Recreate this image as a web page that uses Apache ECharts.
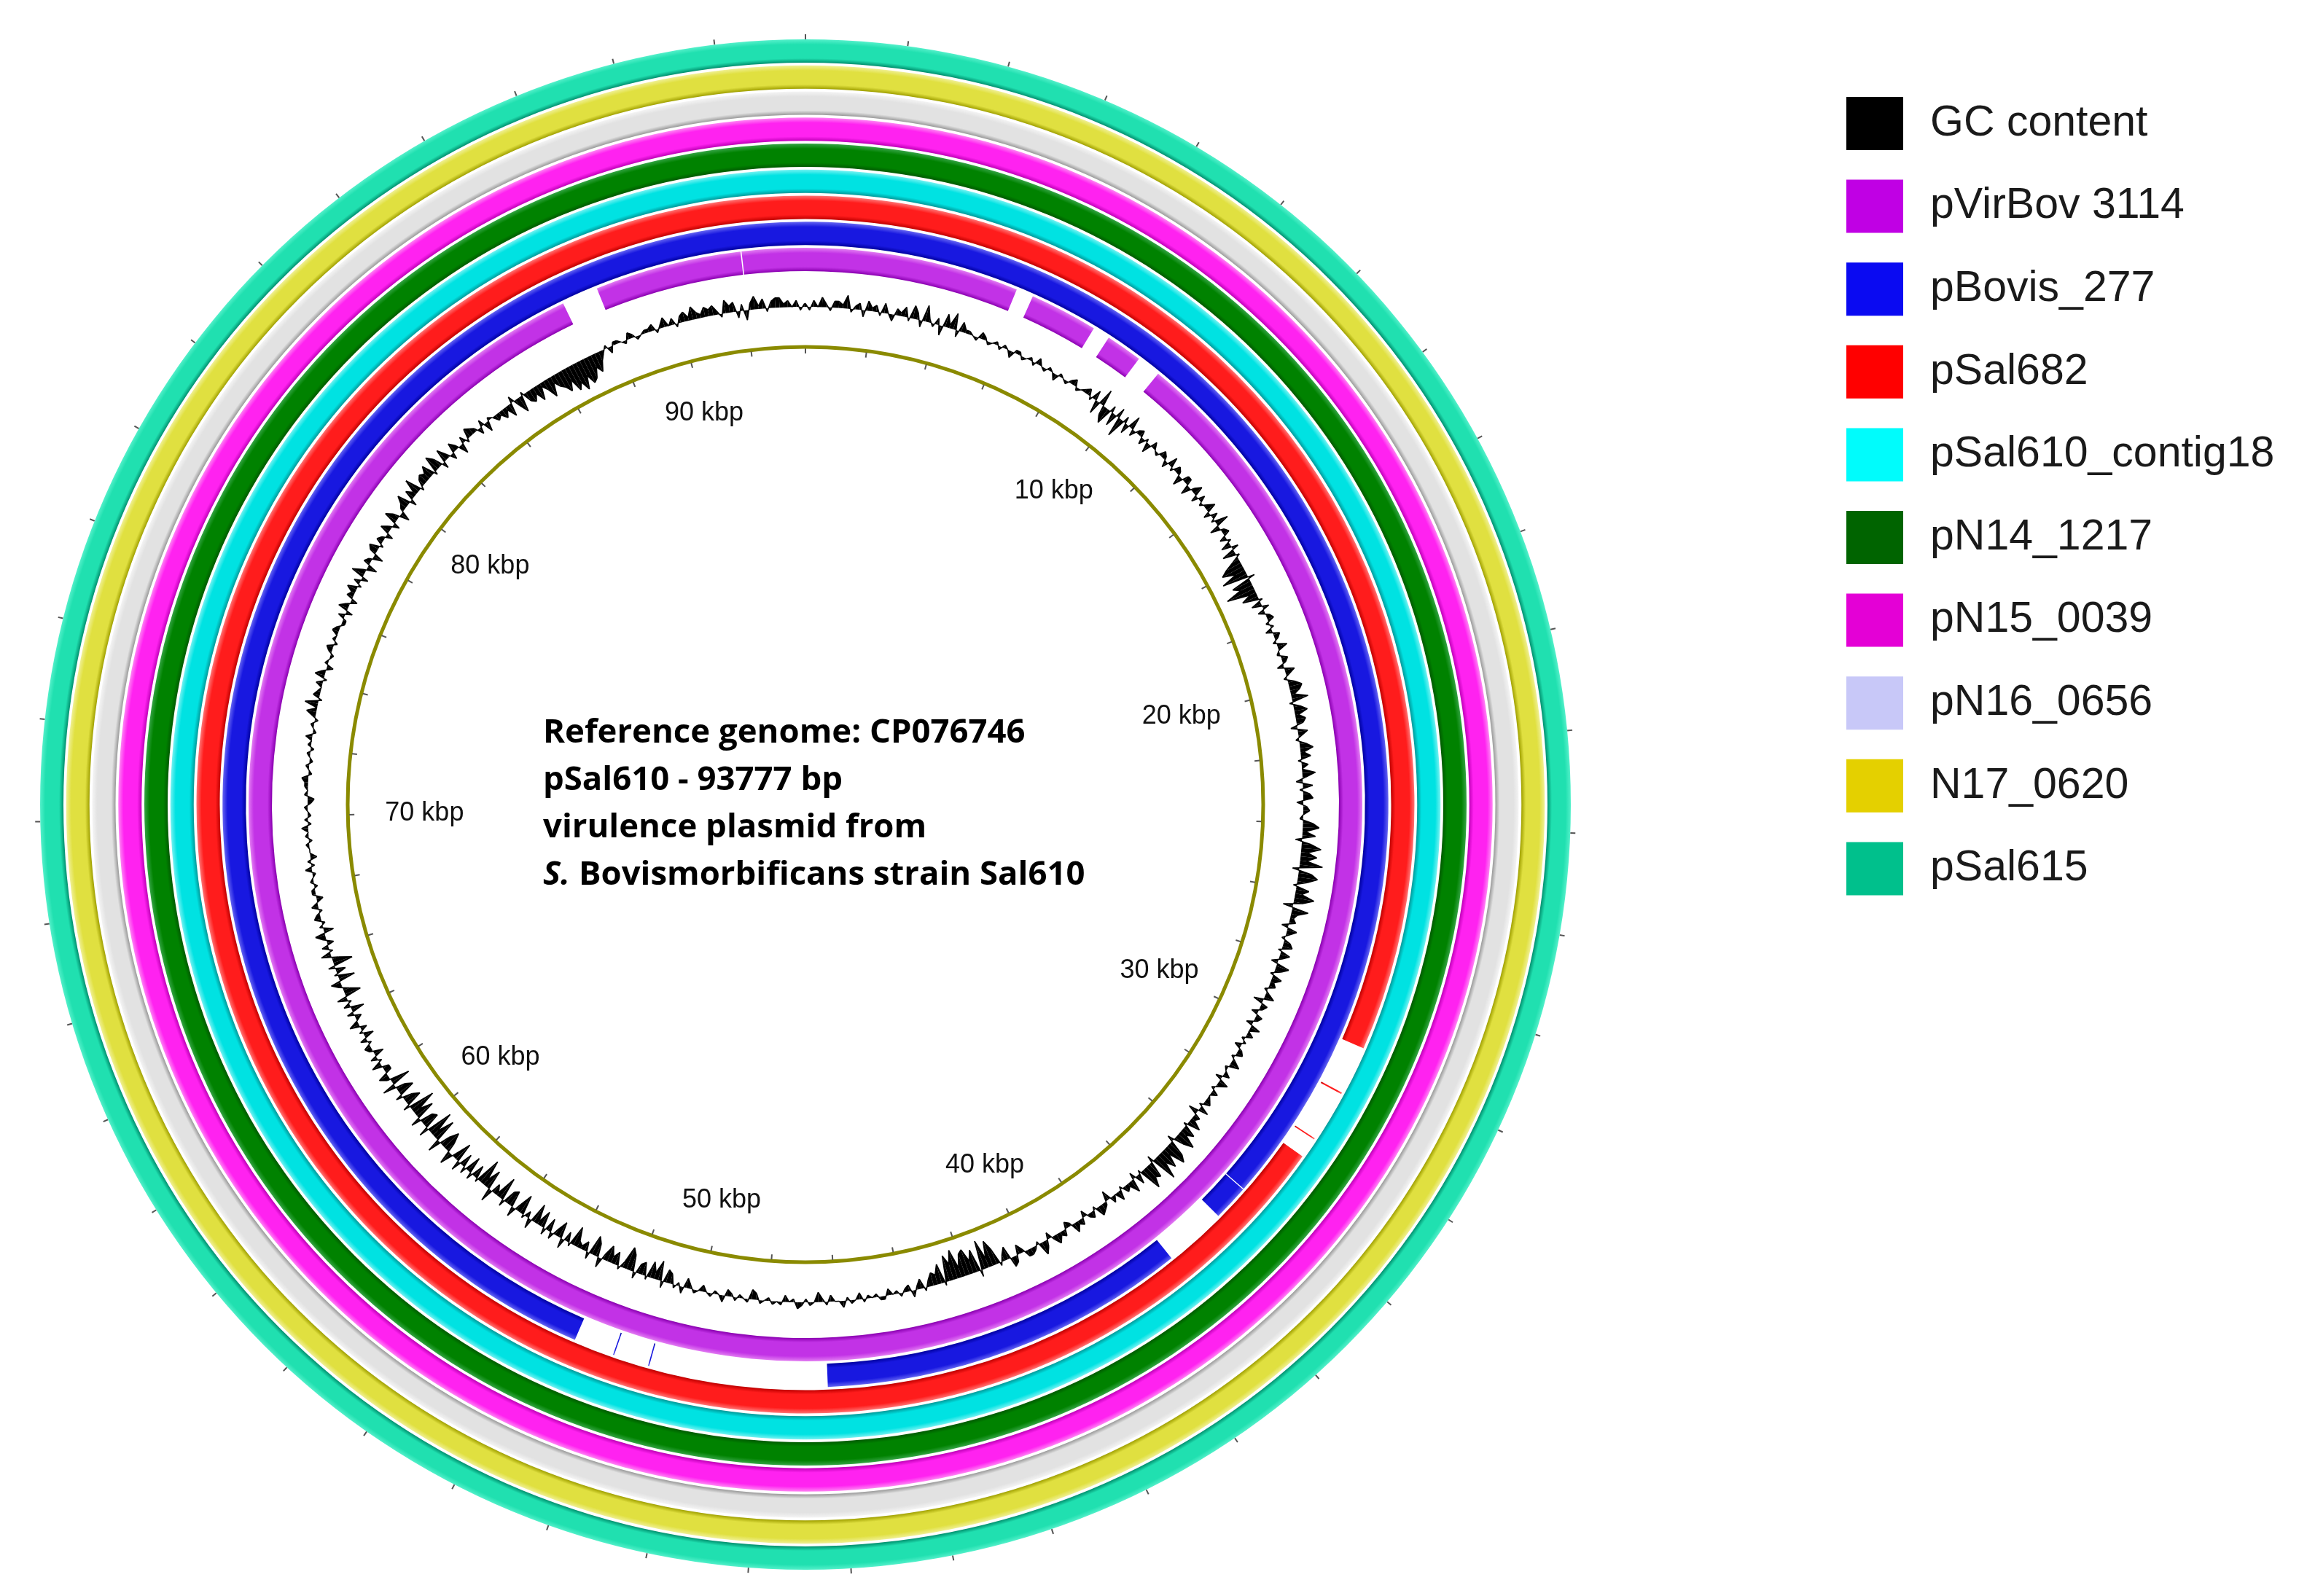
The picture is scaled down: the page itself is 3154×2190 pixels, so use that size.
<!DOCTYPE html>
<html><head><meta charset="utf-8">
<script src="https://cdn.jsdelivr.net/npm/echarts@6/dist/echarts.min.js"></script>
<style>html,body{margin:0;padding:0;background:#fff}#c{width:3154px;height:2190px}</style>
</head><body><div id="c"></div>
<script>
// ---------------- DATA ----------------
const genomeLength = 93777;
const trackNames = ['pVirBov 3114','pBovis_277','pSal682','pSal610_contig18','pN14_1217','pN15_0039','pN16_0656','N17_0620','pSal615'];
// BLAST hit segments on the reference, [start bp, end bp] (clockwise; may wrap through 0)
const pVirBov3114 = [[10237, 87057], [88046, 92030], [92060, 5809], [6278, 8127], [8596, 9586]];
const pBovis277 = [[52958, 34190], [34215, 35140], [36755, 46315], [50940, 50970], [51880, 51910]];
const pSal682 = [[32640, 29592], [30800, 30840], [32105, 32135]];
const pSal610contig18 = [[0, 93777]];
const pN14_1217 = [[0, 93777]];
const pN15_0039 = [[0, 93777]];
const pN16_0656 = [[0, 93777]];
const N17_0620 = [[0, 93777]];
const pSal615 = [[0, 93777]];
const trackSegments = [pVirBov3114, pBovis277, pSal682, pSal610contig18, pN14_1217, pN15_0039, pN16_0656, N17_0620, pSal615];
// GC content deviation, one value per 125 bp window
const gcWindow = 125;
const gcDeviation = [
 1,-1,2,0,3,1,-1,2, 2,1,4,-1,1,2,-2,3, 1,2,-1,3,0,-2,2,1, 3,-1,4,2,-2,5,1,-1, 2,-3,4,1,5,-2,3,1,
 1,0,-1,2,1,-1,0,1, -1,1,0,-2,1,1,-1,0, 1,-1,2,0,-1,1,0,-2, 1,0,-1,1,2,-1,0,1, 2,-1,3,-4,5,-3,-5,2,
 -4,3,-6,2,-3,4,-2,1, 2,-2,1,-3,2,0,-1,2, 1,-2,3,-1,2,1,-3,2, 2,-3,1,3,-2,2,-1,1, 3,-2,2,-1,4,-3,1,2,
 -2,1,-3,2,-4,1,-2,-5, -7,-3,-8,2,-6,-4,-9,-2, -5,1,-3,2,-2,1,2,-1, 1,-2,2,1,-1,3,0,-1, 2,1,-2,3,1,-1,2,4,
 3,1,5,-1,2,4,1,3, 2,-2,3,1,-1,2,4,1, 3,-1,2,0,4,1,-2,3, -1,2,3,-2,1,2,0,-1, 3,5,1,4,-2,3,6,2,
 5,2,7,-2,4,6,3,-1, 4,2,6,3,-3,5,2,1, 2,-2,3,1,-1,2,3,-1, 3,1,-2,4,2,-1,3,1, 2,-1,1,3,-3,2,1,-2,
 2,1,-2,3,0,2,-1,1, -2,1,2,-1,1,3,-1,0, 2,-2,3,1,-1,2,0,1, 2,-1,3,-3,2,1,4,-1, 4,2,6,3,-2,5,7,2,
 6,3,8,-2,5,4,7,-1, 3,-2,4,1,2,-1,3,0, 2,-3,1,2,3,-1,2,1, -2,2,1,3,-1,-2,2,1, 3,1,-2,2,4,-1,1,2,
 2,-1,-3,2,3,-4,-2,1, -5,-8,-3,-9,2,-7,-4,-8, -7,-3,-9,-5,-8,1,-6,-3, -4,-2,1,-3,-1,2,-2,-1, 1,-1,0,-2,1,1,-1,0,
 -1,1,-2,0,1,-1,2,0, 0,-2,1,-1,-3,0,1,-1, 1,2,-1,0,-2,1,0,1, -1,0,1,-2,-3,1,0,-1, 1,-1,-2,2,0,-1,1,0,
 -2,0,1,-1,-3,2,-1,1, -3,-4,2,-6,-2,-5,1,-4, -3,2,-5,-7,-2,1,-4,-2, -5,-2,3,-4,-6,2,-3,-1, -2,-6,1,-3,3,-5,-2,2,
 -4,2,-5,-1,-6,3,-2,1, -6,-2,3,-5,-4,2,-7,-1, -3,4,-6,-2,-8,1,-4,2, -5,2,-4,3,-6,-1,4,-3, -6,-3,4,-7,-2,-8,3,-5,
 -4,3,-6,-2,-8,2,-5,-3, 2,-5,-3,4,-6,1,3,-2, -2,3,-1,2,-3,1,2,-1, 2,-3,1,-2,3,0,-2,2, -4,2,-1,3,-5,-2,1,3,
 -5,1,-3,2,-6,-2,3,-1, 2,-2,1,3,-3,1,-1,2, 1,-1,2,0,-2,1,1,-1, 1,0,-1,2,-1,1,-2,0, 0,1,-1,1,0,2,-1,1,
 -1,0,1,-1,-2,1,0,1, 1,2,-1,0,1,-1,0,1, -1,1,0,2,-1,0,1,-1, 1,3,0,4,-1,2,1,0, 2,-1,3,1,-2,1,0,-1,
 1,2,-1,1,0,2,1,-1, -1,2,-2,3,1,-2,2,1, 3,-1,2,-2,4,1,-3,2, 1,-3,2,3,-1,2,1,-2, 3,1,-2,4,2,-3,1,2,
 4,-2,3,1,5,-1,2,3, 2,4,-1,5,3,-2,4,1, -2,3,1,-3,2,-1,3,2, 1,-2,2,-3,1,0,-2,-1, -3,-1,-4,2,-2,-5,1,-3,
 -4,-2,-5,-1,-3,-6,-2,-4, -5,-7,-4,-8,-6,-9,-5,-8, -7,-4,-6,-3,-1,1,-2,1, 1,0,-1,2,1,-1,0,1, 1,2,-1,1,3,0,2,-1,
 2,3,1,4,2,1,3,2, 3,1,-1,4,2,3,-2,2, -3,2,4,1,3,-1,2,3, 3,1,2,0,2,-1,1
];
const tickPositions = [0,2000,4000,6000,8000,10000,12000,14000,16000,18000,20000,22000,24000,26000,28000,30000,32000,34000,36000,38000,40000,42000,44000,46000,48000,50000,52000,54000,56000,58000,60000,62000,64000,66000,68000,70000,72000,74000,76000,78000,80000,82000,84000,86000,88000,90000,92000];
const labelPositions = [10000,20000,30000,40000,50000,60000,70000,80000,90000];
const tickLabels = ['10 kbp','20 kbp','30 kbp','40 kbp','50 kbp','60 kbp','70 kbp','80 kbp','90 kbp'];
const legendNames = ['GC content','pVirBov 3114','pBovis_277','pSal682','pSal610_contig18','pN14_1217','pN15_0039','pN16_0656','N17_0620','pSal615'];
const legendColors = ['#000000','#c000e4','#0a0af2','#ff0000','#00fcfc','#006400','#e400d6','#c8c8f8','#e4d000','#00c08c'];
const centerText = 'Reference genome: CP076746\npSal610 - 93777 bp\nvirulence plasmid from\n{i|S.} Bovismorbificans strain Sal610';

// ---------------- LAYOUT / STYLE ----------------
const CX = 1105, CY = 1104, R = 1050;
const RING0 = 732, RING_STEP = 35.75, RING_W = 32;
const GC_BASE = 683, GC_SCALE = 4.5;
const BACKBONE_R = 628;
const TAU = Math.PI * 2;
const ringShades = [
 ['#8a00b0','#c232e6','#e27cf2'],
 ['#0000a0','#1818e0','#6464f2'],
 ['#c00000','#ff1c1c','#ff7474'],
 ['#009a9a','#00e2e2','#74f2f2'],
 ['#005a00','#008200','#34a444'],
 ['#c000b8','#ff22f0','#ff84f4'],
 ['#9a9a9a','#e2e2e2','#f4f4f4'],
 ['#a0a000','#e0e040','#f0f094'],
 ['#00906e','#20e0b0','#54f0ca']
];

function angOf(api, bp, cx, cy) {
  const p = api.coord([500, bp]);
  return Math.atan2(p[1] - cy, p[0] - cx);
}

function trackRender(ti) {
  return function (params, api) {
    const cs = params.coordSys; const cx = cs.cx, cy = cs.cy;
    const s = api.value(0), e = api.value(1);
    const r0 = RING0 + ti * RING_STEP, r1 = r0 + RING_W;
    const a0 = angOf(api, s, cx, cy), a1 = angOf(api, e, cx, cy);
    let d = a1 - a0; d = ((d % TAU) + TAU) % TAU; if (d < 1e-6) d = TAU;
    const sh = ringShades[ti];
    const grad = new echarts.graphic.RadialGradient(cx, cy, r1, [
      {offset: 0, color: sh[0]},
      {offset: r0 / r1, color: sh[0]},
      {offset: (r0 + 6) / r1, color: sh[1]},
      {offset: (r1 - 7) / r1, color: sh[1]},
      {offset: 1, color: sh[2]}
    ], true);
    return {type: 'sector', shape: {cx: cx, cy: cy, r0: r0, r: r1, startAngle: a0, endAngle: a0 + d, clockwise: true},
      style: {fill: grad}};
  };
}

const series = [];
// GC content
series.push({
  type: 'custom', name: 'GC content', coordinateSystem: 'polar', itemStyle: {color: legendColors[0]},
  data: gcDeviation.map((v, i) => [i * gcWindow, v]),
  renderItem: function (params, api) {
    const n = params.dataInsideLength, i = params.dataIndexInside;
    const p0 = api.value(0), v0 = api.value(1);
    let p1, v1;
    if (i + 1 < n) { p1 = api.value(0, i + 1); v1 = api.value(1, i + 1); } else { p1 = genomeLength; v1 = api.value(1, 0); }
    const f = p => { const c = api.coord(p); return [c[0], c[1]]; };
    const pts = [f([GC_BASE, p0]), f([GC_BASE + v0 * GC_SCALE, p0]), f([GC_BASE + v1 * GC_SCALE, p1]), f([GC_BASE, p1])];
    return {type: 'group', children: [
      {type: 'polygon', shape: {points: pts}, style: {fill: '#000'}},
      {type: 'polyline', shape: {points: [pts[1], pts[2]]}, style: {stroke: '#000', lineWidth: 1.5, fill: null}}
    ]};
  }
});
trackSegments.forEach((segs, ti) => {
  series.push({
    type: 'custom', name: trackNames[ti], coordinateSystem: 'polar', itemStyle: {color: legendColors[ti + 1]},
    data: segs.map(s => [s[0], s[1]]),
    renderItem: trackRender(ti)
  });
});
// backbone circle and inner ticks
series.push({
  type: 'custom', name: 'backbone', coordinateSystem: 'polar', silent: true,
  data: tickPositions.map(p => [p, 0]),
  renderItem: function (params, api) {
    const cs = params.coordSys;
    const p = api.value(0);
    const a = api.coord([BACKBONE_R - 9, p]), b = api.coord([BACKBONE_R - 2, p]);
    const children = [{type: 'line', shape: {x1: a[0], y1: a[1], x2: b[0], y2: b[1]}, style: {stroke: '#555', lineWidth: 2}}];
    if (params.dataIndexInside === 0) {
      children.push({type: 'circle', shape: {cx: cs.cx, cy: cs.cy, r: BACKBONE_R}, style: {fill: null, stroke: '#8a8a00', lineWidth: 5}});
    }
    return {type: 'group', children: children};
  }
});
// tick labels
series.push({
  type: 'custom', name: 'labels', coordinateSystem: 'polar', silent: true,
  data: labelPositions.map((p, i) => [p, i]),
  renderItem: function (params, api) {
    const cs = params.coordSys;
    const p = api.value(0), idx = api.value(1);
    const u = api.coord([1000, p]);
    const dy = (u[1] - cs.cy) / 1000;
    const rc = 522 + 34 * Math.abs(dy);
    const q = api.coord([rc, p]);
    return {type: 'text', x: q[0], y: q[1], style: {text: tickLabels[idx], fontSize: 36, fontFamily: 'Liberation Sans', fill: '#111', align: 'center', verticalAlign: 'middle'}};
  }
});

const option = {
  backgroundColor: '#ffffff',
  animation: false,
  title: {
    text: centerText, left: 740, top: 969,
    textStyle: {fontFamily: 'Open Sans', fontWeight: 'bold', fontSize: 45.5, lineHeight: 65, color: '#000',
      rich: {i: {fontFamily: 'Open Sans', fontWeight: 'bold', fontStyle: 'italic', fontSize: 45.5, lineHeight: 65, color: '#000'}}}
  },
  legend: {
    orient: 'vertical', left: 2528, top: 128, itemWidth: 78, itemHeight: 73, itemGap: 40.6, icon: 'rect', selectedMode: false,
    data: legendNames,
    textStyle: {fontSize: 59, fontFamily: 'Liberation Sans', color: '#1a1a1a', padding: [0, 0, 0, 32]}
  },
  polar: {center: [CX, CY], radius: R},
  radiusAxis: {type: 'value', min: 0, max: R, show: false},
  angleAxis: {type: 'value', min: 0, max: genomeLength, interval: 2000, startAngle: 90, clockwise: true,
    axisLine: {show: false}, splitLine: {show: false}, axisLabel: {show: false},
    axisTick: {show: true, length: 7, lineStyle: {color: '#555', width: 2}}},
  series: series
};
const chart = echarts.init(document.getElementById('c'), null, {renderer: 'canvas'});
chart.setOption(option);
</script></body></html>
